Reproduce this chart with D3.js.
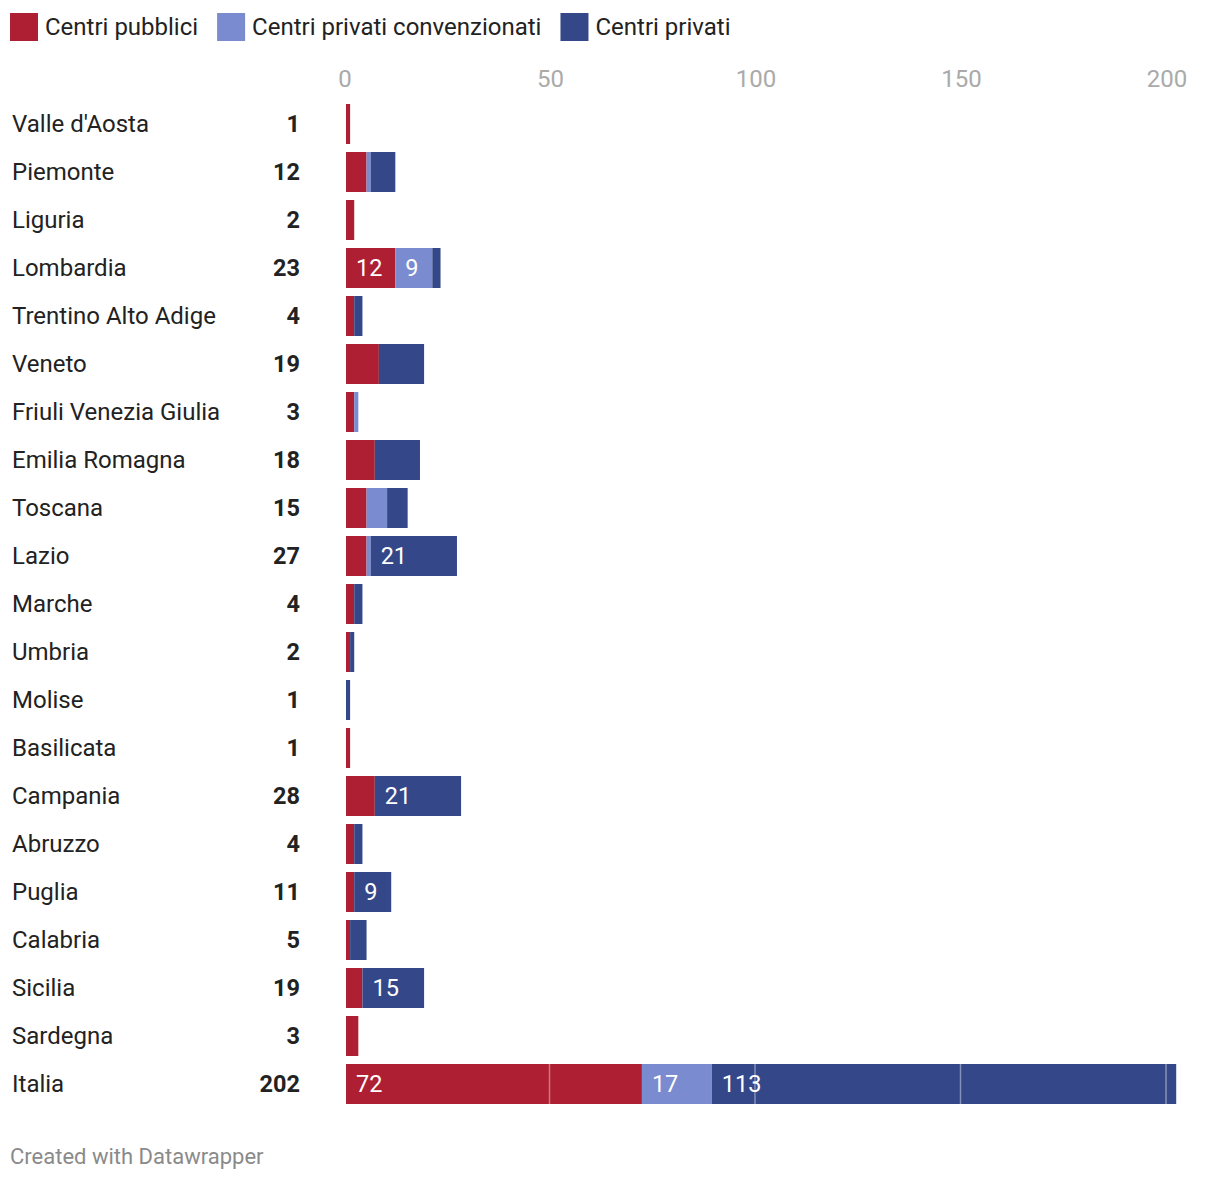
<!DOCTYPE html>
<html><head><meta charset="utf-8">
<script src="https://cdn.jsdelivr.net/npm/d3@7"></script>
<style>
body{margin:0;background:#fff;font-family:Roboto,"Noto Sans",sans-serif;}
svg text{font-family:Roboto,"Noto Sans",sans-serif;}
</style></head><body>
<svg id="chart" width="1220" height="1182"></svg>
<script>
const regions = ["Valle d'Aosta","Piemonte","Liguria","Lombardia","Trentino Alto Adige","Veneto","Friuli Venezia Giulia","Emilia Romagna","Toscana","Lazio","Marche","Umbria","Molise","Basilicata","Campania","Abruzzo","Puglia","Calabria","Sicilia","Sardegna","Italia"];
const pubblici      = [1,5,2,12,2,8,2,7,5,5,2,1,0,1,7,2,2,1,4,3,72];
const convenzionati = [0,1,0,9,0,0,1,0,5,1,0,0,0,0,0,0,0,0,0,0,17];
const privati       = [0,6,0,2,2,11,0,11,5,21,2,1,1,0,21,2,9,4,15,0,113];
const totals        = [1,12,2,23,4,19,3,18,15,27,4,2,1,1,28,4,11,5,19,3,202];
// which segment values are printed inside the bars: [pubblici, convenzionati, privati]
const showLabels = {"Lombardia":[1,1,0],"Lazio":[0,0,1],"Campania":[0,0,1],"Puglia":[0,0,1],"Sicilia":[0,0,1],"Italia":[1,1,1]};
const seriesNames = ["Centri pubblici","Centri privati convenzionati","Centri privati"];
const colors = ["#ae1f33","#7b8bcf","#344889"];
const ticks = [0,50,100,150,200];

const svg = d3.select("#chart");
const x = d3.scaleLinear().domain([0,200]).range([345,1167]);
const y = d3.scaleBand().domain(regions).range([100,1108]).paddingInner(8/48).paddingOuter(4/48);

// legend
let lx = 10;
const lg = svg.append("g");
seriesNames.forEach((n,i)=>{
  lg.append("rect").attr("x",lx).attr("y",13).attr("width",28).attr("height",28).attr("fill",colors[i]);
  const t = lg.append("text").attr("x",lx+35).attr("y",35).attr("font-size",24).attr("fill","#222").text(n);
  lx += 35 + t.node().getComputedTextLength() + 19;
});

// axis tick labels
svg.append("g").selectAll("text").data(ticks).join("text")
  .attr("x",d=>x(d)).attr("y",87).attr("text-anchor","middle")
  .attr("font-size",24).attr("fill","#aaa").text(d=>d);

// rows
const series = [pubblici, convenzionati, privati];
const rows = svg.append("g");
regions.forEach((r,i)=>{
  const cy = y(r) + y.bandwidth()/2;
  rows.append("text").attr("x",12).attr("y",cy).attr("dy","0.35em")
    .attr("font-size",24).attr("fill","#222").text(r);
  rows.append("text").attr("x",300).attr("y",cy).attr("dy","0.35em").attr("text-anchor","end")
    .attr("font-size",23.5).attr("font-weight","bold").attr("fill","#222").text(totals[i]);
  let acc = 0;
  series.forEach((s,k)=>{
    const v = s[i];
    if(v>0){
      rows.append("rect").attr("x",x(acc)+1).attr("y",y(r))
        .attr("width",x(acc+v)-x(acc)).attr("height",y.bandwidth()).attr("fill",colors[k]);
      if(showLabels[r] && showLabels[r][k]){
        rows.append("text").attr("x",x(acc)+11).attr("y",cy).attr("dy","0.36em")
          .attr("font-size",23.5).attr("fill","#fff").text(v);
      }
    }
    acc += v;
  });
});

// grid lines drawn over bars (white, translucent)
svg.append("g").selectAll("line").data(ticks.slice(1)).join("line")
  .attr("x1",d=>x(d)-1).attr("x2",d=>x(d)-1).attr("y1",100).attr("y2",1108)
  .attr("stroke","#fff").attr("stroke-opacity",0.4).attr("stroke-width",1.5);

// footer
svg.append("text").attr("x",10).attr("y",1164).attr("font-size",22).attr("fill","#8a8a8a").text("Created with Datawrapper");
</script></body></html>
